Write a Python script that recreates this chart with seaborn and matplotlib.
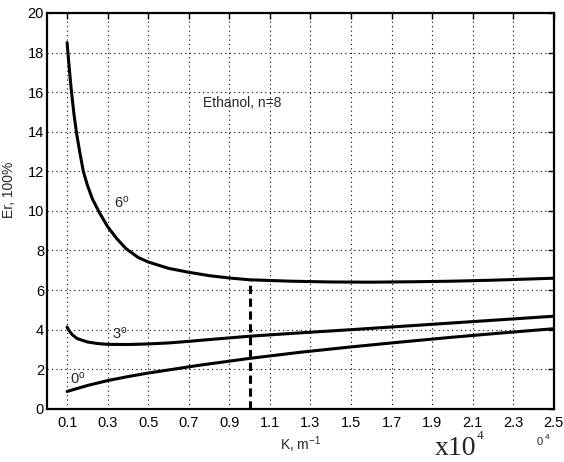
import numpy as np
import pandas as pd
import matplotlib
matplotlib.use("Agg")
import matplotlib.pyplot as plt
import seaborn as sns

# curves (K in units of 1e4 m^-1, Er in %)
k_6deg = [0.1, 0.104, 0.11, 0.117, 0.125, 0.135, 0.147, 0.162, 0.18, 0.2, 0.225,
          0.26, 0.3, 0.345, 0.39, 0.45, 0.5, 0.6, 0.7, 0.8, 0.9, 1.0, 1.2, 1.4,
          1.6, 1.8, 2.0, 2.2, 2.5]
er_6deg = [18.5, 18.0, 17.3, 16.5, 15.7, 14.8, 13.9, 13.0, 12.0, 11.3, 10.6,
           9.9, 9.2, 8.6, 8.1, 7.65, 7.42, 7.1, 6.9, 6.73, 6.61, 6.52, 6.45, 6.41,
           6.4, 6.42, 6.45, 6.5, 6.6]

k_3deg = [0.1, 0.11, 0.125, 0.15, 0.2, 0.25, 0.3, 0.4, 0.5, 0.6, 0.7, 0.8, 1.0,
          1.25, 1.5, 1.75, 2.0, 2.25, 2.5]
er_3deg = [4.13, 3.95, 3.75, 3.55, 3.38, 3.3, 3.26, 3.25, 3.28, 3.33, 3.41, 3.5,
           3.67, 3.84, 4.0, 4.17, 4.34, 4.51, 4.68]

k_0deg = [0.1, 0.2, 0.3, 0.4, 0.5, 0.75, 1.0, 1.25, 1.5, 1.75, 2.0, 2.25, 2.5]
er_0deg = [0.88, 1.18, 1.43, 1.63, 1.81, 2.2, 2.55, 2.86, 3.13, 3.38, 3.62, 3.84,
           4.05]

k_marker = [1.0, 1.0]
er_marker = [0.0, 6.52]

x_ticks = [0.1, 0.3, 0.5, 0.7, 0.9, 1.1, 1.3, 1.5, 1.7, 1.9, 2.1, 2.3, 2.5]
y_ticks = [0, 2, 4, 6, 8, 10, 12, 14, 16, 18, 20]

sns.set_style("white")
plt.rcParams["font.family"] = ["Liberation Sans", "DejaVu Sans"]
plt.rcParams["mathtext.fontset"] = "custom"
plt.rcParams["mathtext.rm"] = "Liberation Sans"
plt.rcParams["mathtext.it"] = "Liberation Sans:italic"

fig = plt.figure(figsize=(5.64, 4.62), dpi=100)
ax = fig.add_axes([0.083, 0.115, 0.899, 0.857])

for kk, ee in [(k_6deg, er_6deg), (k_3deg, er_3deg), (k_0deg, er_0deg)]:
    sns.lineplot(x=kk, y=ee, ax=ax, color="black", linewidth=2.2, sort=False)

ax.plot(k_marker, er_marker, color="black", linewidth=2.2, linestyle=(0, (2.7, 1.5)))

ax.set_xlim(0, 2.5)
ax.set_ylim(0, 20)
ax.set_xticks(x_ticks)
ax.set_yticks(y_ticks)
ax.set_xticklabels([f"{t:.1f}" for t in x_ticks])
ax.grid(True, color="black", linestyle=(0, (1, 3)), linewidth=0.8)
ax.tick_params(direction="in", length=4, width=1, labelsize=10.5, top=True,
               right=True, colors="black")
ax.tick_params(axis="x", pad=5)
ax.tick_params(axis="y", pad=2)
for s in ax.spines.values():
    s.set_linewidth(1.6)
    s.set_color("black")

ax.set_xlabel("K, m$^{-1}$", fontsize=10, labelpad=3)
ax.set_ylabel("Er, 100%", fontsize=10)
ax.yaxis.set_label_coords(-0.06, 0.553)

ax.text(0.33, 10.15, "6$^{\\mathrm{o}}$", fontsize=10.5)
ax.text(0.32, 3.55, "3$^{\\mathrm{o}}$", fontsize=10.5)
ax.text(0.115, 1.3, "0$^{\\mathrm{o}}$", fontsize=10.5)
ax.text(0.77, 15.45, "Ethanol, n=8", fontsize=10, va="center")

serif = ["Liberation Serif", "DejaVu Serif"]
fig.text(0.771, 0.015, "x10", fontsize=20, family=serif)
fig.text(0.846, 0.05, "4", fontsize=9.5, family=serif)
fig.text(0.952, 0.036, "0", fontsize=8)
fig.text(0.966, 0.05, "4", fontsize=6)

fig.savefig("out.png", dpi=100)
